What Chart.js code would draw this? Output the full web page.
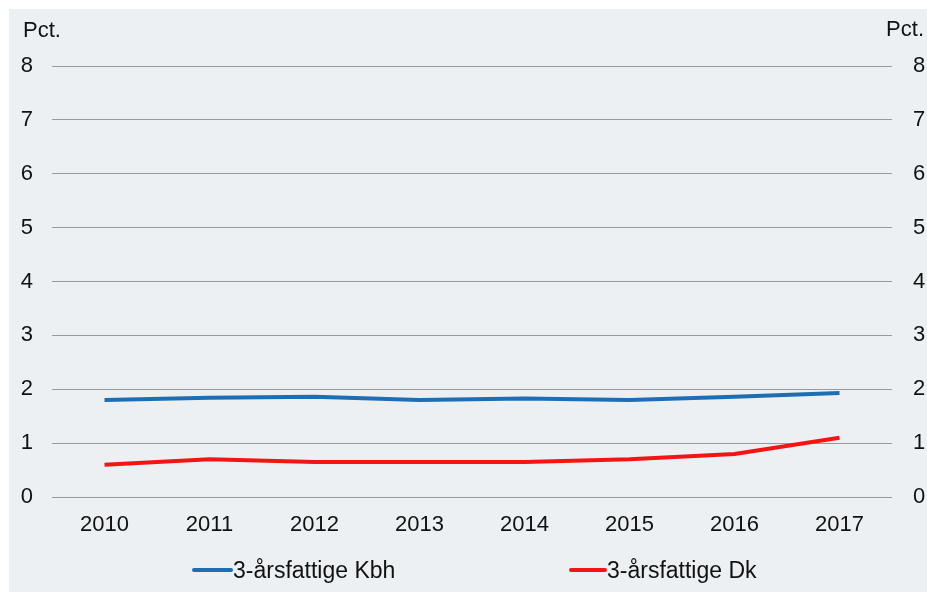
<!DOCTYPE html>
<html>
<head>
<meta charset="utf-8">
<script src="https://cdn.jsdelivr.net/npm/chart.js@4.4.1/dist/chart.umd.min.js"></script>
<style>
  html, body { margin: 0; padding: 0; background: #ffffff; width: 927px; height: 592px; overflow: hidden; }
  #wrap { position: absolute; left: 9px; top: 9px; width: 918px; height: 583px; background: #ECF0F3; }
  #c { position: absolute; left: 0; top: 0; }
  .leg { position: absolute; top: 558px; font-family: "Liberation Sans", Arial, sans-serif; font-size: 23px; color: #111; display: flex; align-items: center; height: 24px; }
  .leg span.ln { display: inline-block; height: 4px; border-radius: 2px; }
</style>
</head>
<body>
<div id="wrap"><canvas id="c" width="918" height="583"></canvas></div>
<div class="leg" style="left:192px"><span class="ln" style="width:41px;background:#1F6EB4"></span><span>3-årsfattige Kbh</span></div>
<div class="leg" style="left:569px"><span class="ln" style="width:38px;background:#F41414"></span><span>3-årsfattige Dk</span></div>
<script>
const categories = ["2010","2011","2012","2013","2014","2015","2016","2017"];
const seriesKbh = [1.80, 1.84, 1.86, 1.80, 1.83, 1.80, 1.86, 1.93];
const seriesDk  = [0.60, 0.70, 0.65, 0.65, 0.65, 0.70, 0.80, 1.10];
const seriesNames = ["3-årsfattige Kbh", "3-årsfattige Dk"];
const unitLabel = "Pct.";

const FONT = '"Liberation Sans", Arial, sans-serif';

const unitPlugin = {
  id: 'unitLabels',
  afterDraw(chart) {
    const ctx = chart.ctx;
    ctx.save();
    ctx.font = '22px ' + FONT;
    ctx.fillStyle = '#111';
    ctx.textBaseline = 'middle';
    ctx.textAlign = 'left';
    ctx.fillText(unitLabel, 14, 22);
    ctx.textAlign = 'right';
    ctx.fillText(unitLabel, 915, 21);
    ctx.restore();
  }
};

new Chart(document.getElementById('c'), {
  type: 'line',
  data: {
    labels: categories,
    datasets: [
      { label: seriesNames[0], data: seriesKbh, borderColor: '#1F6EB4', borderWidth: 4, pointRadius: 0, tension: 0, fill: false, yAxisID: 'y' },
      { label: seriesNames[1], data: seriesDk, borderColor: '#F41414', borderWidth: 4, pointRadius: 0, tension: 0, fill: false, yAxisID: 'y' }
    ]
  },
  options: {
    responsive: false,
    animation: false,
    layout: { padding: { top: 57, bottom: 0, left: 0, right: 0 } },
    plugins: { legend: { display: false }, tooltip: { enabled: false } },
    scales: {
      x: {
        offset: true,
        grid: { display: false },
        border: { display: false },
        ticks: { color: '#111', font: { family: FONT, size: 22 }, padding: 7, maxRotation: 0 },
        afterFit(s) { s.height = 95; }
      },
      y: {
        position: 'left',
        min: 0, max: 8,
        ticks: { stepSize: 1, color: '#111', font: { family: FONT, size: 22 }, padding: 19 },
        grid: { color: '#9a9a9a', lineWidth: 1, drawTicks: false },
        border: { display: false },
        afterFit(s) { s.width = 43; }
      },
      y1: {
        position: 'right',
        min: 0, max: 8,
        ticks: { stepSize: 1, color: '#111', font: { family: FONT, size: 22 }, padding: 13 },
        grid: { display: false },
        border: { display: false },
        afterFit(s) { s.width = 35; }
      }
    }
  },
  plugins: [unitPlugin]
});
</script>
</body>
</html>
